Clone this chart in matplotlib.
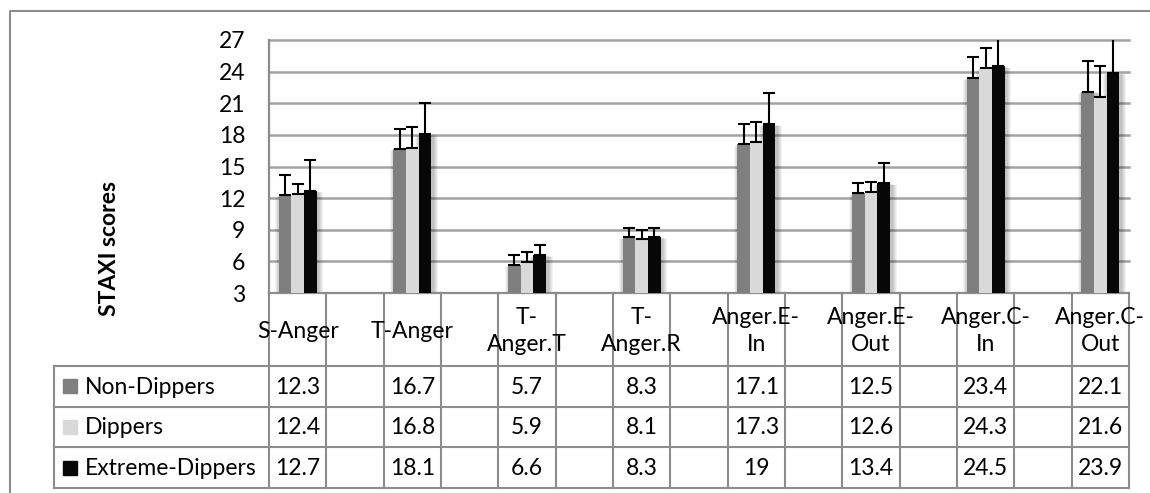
import matplotlib
matplotlib.use("Agg")
import matplotlib.pyplot as plt
from matplotlib.patches import Rectangle
from matplotlib.lines import Line2D

# ---------------- data ----------------
categories = ["S-Anger", "T-Anger", "T-\nAnger.T", "T-\nAnger.R",
              "Anger.E-\nIn", "Anger.E-\nOut", "Anger.C-\nIn", "Anger.C-\nOut"]
series_names = ["Non-Dippers", "Dippers", "Extreme-Dippers"]
non_dippers = [12.3, 16.7, 5.7, 8.3, 17.1, 12.5, 23.4, 22.1]
dippers = [12.4, 16.8, 5.9, 8.1, 17.3, 12.6, 24.3, 21.6]
extreme_dippers = [12.7, 18.1, 6.6, 8.3, 19.0, 13.4, 24.5, 23.9]
err_non_dippers = [1.9, 1.9, 0.9, 0.9, 1.9, 0.95, 1.95, 2.95]
err_dippers = [0.9, 1.9, 0.95, 0.9, 1.95, 0.93, 1.95, 2.95]
err_extreme = [2.95, 2.9, 0.95, 0.9, 2.95, 1.93, 3.0, 3.5]
y_ticks = [3, 6, 9, 12, 15, 18, 21, 24, 27]
y_label = "STAXI scores"

colors = ["#7f7f7f", "#d9d9d9", "#070707"]
series = [non_dippers, dippers, extreme_dippers]
errors = [err_non_dippers, err_dippers, err_extreme]

FONT = "Lato"
FS = 16.5
W, H = 1150, 493
GRID = "#a3a3a3"
LINE = "#8c8c8c"

fig = plt.figure(figsize=(W / 100, H / 100), dpi=100)

# overlay axes in pixel coordinates (outer border, y label)
oax = fig.add_axes([0, 0, 1, 1], zorder=0)
oax.set_xlim(0, W)
oax.set_ylim(H, 0)
oax.axis("off")
oax.plot([10, 10, W], [H, 11, 11], color=LINE, lw=1.5, clip_on=False)
oax.text(109, 248, y_label, rotation=90, ha="center", va="center",
         fontsize=FS, fontweight="bold", family=FONT)

# main plot axes
L, R, T, B = 269, 1129, 40, 293
ax = fig.add_axes([L / W, (H - B) / H, (R - L) / W, (B - T) / H], zorder=2)
ax.patch.set_alpha(0)
n_slots = 2 * len(categories) - 1
ax.set_xlim(-0.5, n_slots - 0.5)
ax.set_ylim(y_ticks[0], y_ticks[-1])
ax.set_yticks(y_ticks)
ax.set_yticklabels([str(t) for t in y_ticks], family=FONT, fontsize=FS)
ax.tick_params(axis="y", length=0, pad=17)
ax.set_xticks([])
for t in y_ticks[1:]:
    ax.axhline(t, color=GRID, lw=1.8, zorder=0, clip_on=False)
for s in ["top", "right"]:
    ax.spines[s].set_visible(False)
for s in ["left", "bottom"]:
    ax.spines[s].set_color(LINE)
    ax.spines[s].set_linewidth(1.6)

bw = 0.222
xpos = [2 * i for i in range(len(categories))]
# soft shadows
for k, (vals, col) in enumerate(zip(series, colors)):
    xs = [x + (k - 1) * bw + 0.03 for x in xpos]
    for j in range(1, 6):
        ax.bar(xs, [v - 0.04 * j for v in vals], width=bw + 0.035 * j,
               color="black", alpha=0.05, zorder=1, linewidth=0)
for k, (vals, col, errs) in enumerate(zip(series, colors, errors)):
    xs = [x + (k - 1) * bw for x in xpos]
    ax.bar(xs, vals, width=bw, color=col, zorder=3, linewidth=0)
    ax.errorbar(xs, vals, yerr=[[0] * len(vals), errs], fmt="none",
                ecolor="black", elinewidth=1.5, capsize=4.4, capthick=1.5,
                zorder=4)

# data table axes
TL, TB = 54, 488
slot_px = (R - L) / n_slots
x_left = -0.5 - (L - TL) / slot_px
tax = fig.add_axes([TL / W, 0, (R - TL) / W, (H - B) / H], zorder=1)
tax.set_xlim(x_left, n_slots - 0.5)
tax.set_ylim(H, B)
tax.axis("off")

row_lines = [366, 406.7, 447.3, TB]
for y in row_lines:
    tax.plot([x_left, n_slots - 0.5], [y, y], color=LINE, lw=1.5, clip_on=False)
tax.plot([x_left, x_left], [row_lines[0], TB], color=LINE, lw=1.5, clip_on=False)
for k in range(n_slots + 1):
    tax.plot([k - 0.5, k - 0.5], [B, TB], color=LINE, lw=1.5, clip_on=False)

for i, cat in enumerate(categories):
    tax.text(xpos[i], 331, cat, ha="center", va="center", fontsize=FS,
             family=FONT, linespacing=1.3)

row_centers = [(row_lines[r] + row_lines[r + 1]) / 2 for r in range(3)]
key_w = 14 / slot_px
for r, (name, vals, col) in enumerate(zip(series_names, series, colors)):
    yc = row_centers[r]
    tax.add_patch(Rectangle((x_left + 9 / slot_px, yc - 7), key_w, 14,
                            color=col, clip_on=False))
    tax.text(x_left + 31 / slot_px, yc + 1, name, ha="left", va="center",
             fontsize=FS, family=FONT)
    for i, v in enumerate(vals):
        tax.text(xpos[i], yc + 1, f"{v:g}", ha="center", va="center",
                 fontsize=FS, family=FONT)

fig.savefig("out.png", dpi=100)
